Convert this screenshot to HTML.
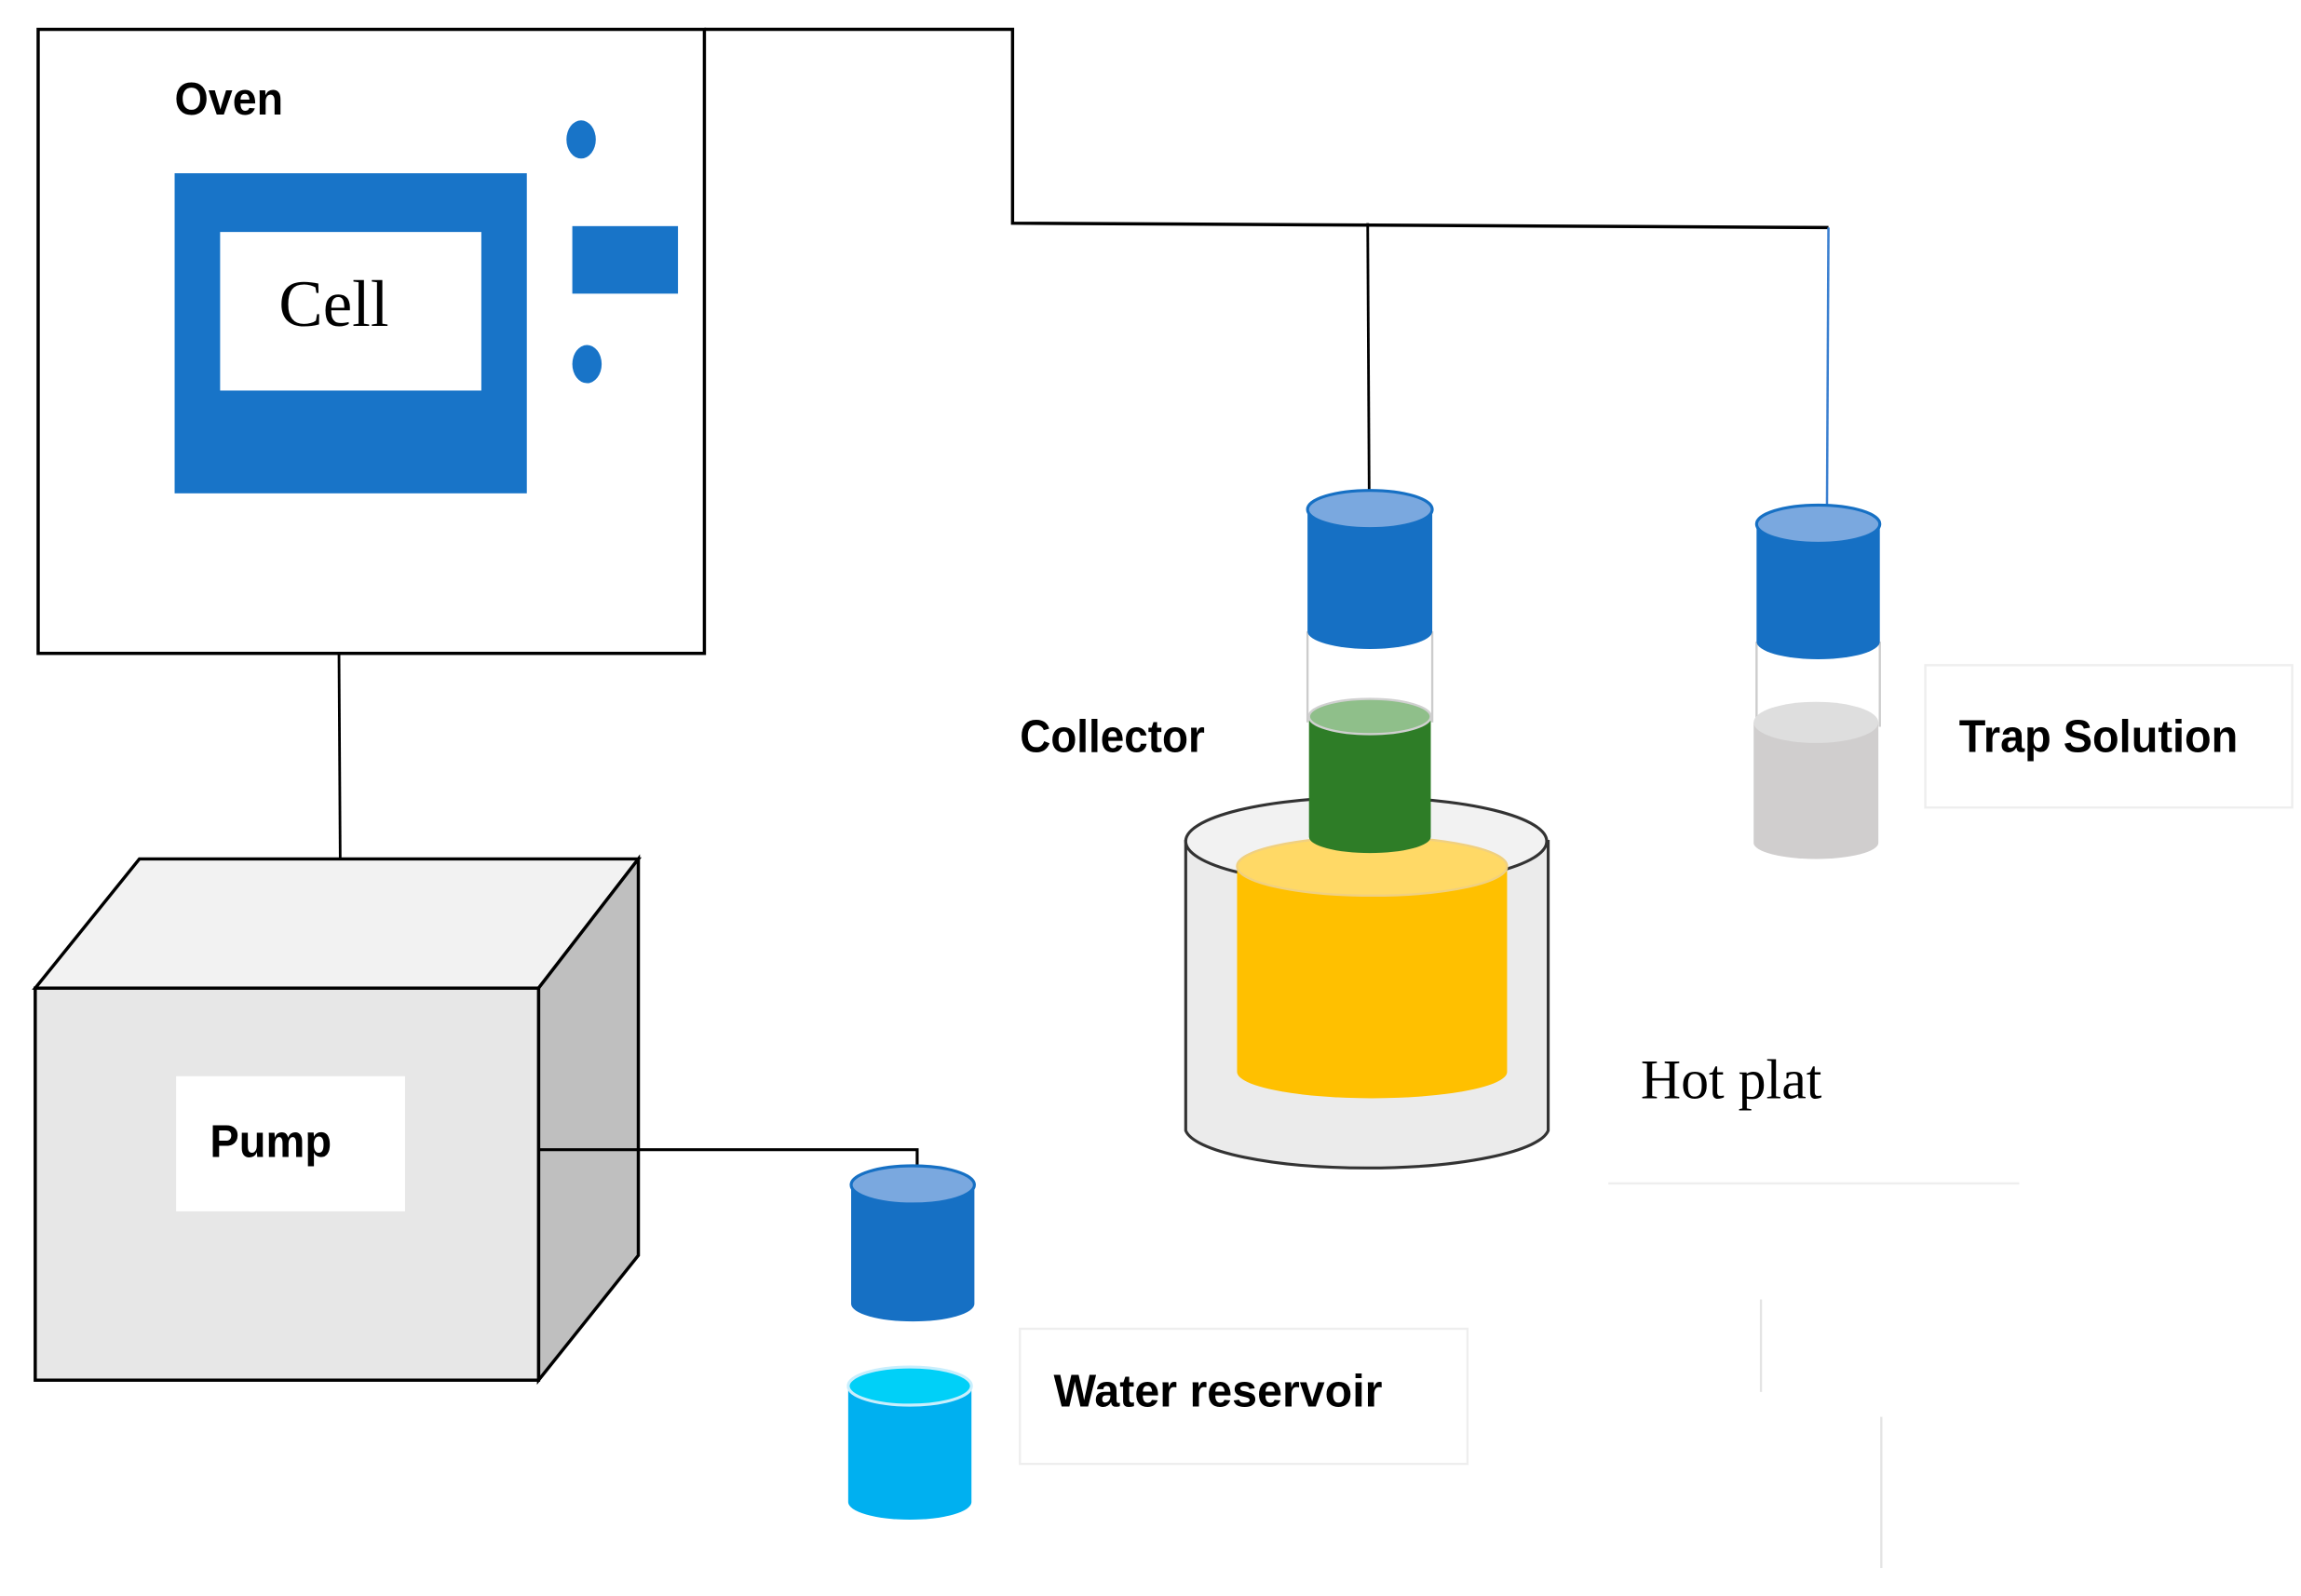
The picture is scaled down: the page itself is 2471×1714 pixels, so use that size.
<!DOCTYPE html>
<html><head><meta charset="utf-8"><style>html,body{margin:0;padding:0;background:#fff}svg{display:block}</style></head>
<body>
<svg width="2471" height="1714" viewBox="0 0 1568 1087" preserveAspectRatio="none" xmlns="http://www.w3.org/2000/svg">
<rect width="1568" height="1087" fill="#fff"/>
<rect x="26" y="20" width="454" height="425" fill="#fff" stroke="#000" stroke-width="2.2"/>
<text x="119" y="78" font-family="Liberation Sans, sans-serif" font-weight="bold" font-size="31" textLength="74" lengthAdjust="spacingAndGlyphs">Oven</text>
<rect x="119" y="118" width="240" height="218" fill="#1874C8"/>
<rect x="150" y="158" width="178" height="108" fill="#fff"/>
<text x="190" y="222" font-family="Liberation Serif, serif" font-size="45">Cell</text>
<ellipse cx="396" cy="95" rx="10" ry="13" fill="#1874C8"/>
<ellipse cx="400" cy="248" rx="10" ry="13" fill="#1874C8"/>
<rect x="390" y="154" width="72" height="46" fill="#1874C8"/>
<polyline points="480,20 690,20 690,152 1246,155" fill="none" stroke="#000" stroke-width="2.2"/>
<line x1="932" y1="152" x2="933" y2="334" stroke="#000" stroke-width="1.8"/>
<line x1="1246" y1="155" x2="1245" y2="344" stroke="#3a7fd0" stroke-width="1.6"/>
<line x1="231" y1="445" x2="232" y2="613" stroke="#000" stroke-width="1.8"/>
<polygon points="24,673 95,585 435,585 367,673" fill="#f2f2f2" stroke="#000" stroke-width="2.2"/>
<polygon points="367,673 435,585 435,855 367,940" fill="#bfbfbf" stroke="#000" stroke-width="2.2"/>
<rect x="24" y="673" width="343" height="267" fill="#e7e7e7" stroke="#000" stroke-width="2.2"/>
<rect x="120" y="733" width="156" height="92" fill="#fff"/>
<text x="143" y="788" font-family="Liberation Sans, sans-serif" font-weight="bold" font-size="31" textLength="83" lengthAdjust="spacingAndGlyphs">Pump</text>
<polyline points="367,783 625,783 625,822" fill="none" stroke="#000" stroke-width="2"/>
<path d="M580,807 L580,888 A42,12 0 0 0 664,888 L664,807 Z" fill="#1670C4"/>
<ellipse cx="622" cy="807" rx="42" ry="13" fill="#7aa8df" stroke="#1670C4" stroke-width="2"/>
<path d="M578,944 L578,1023 A42,12 0 0 0 662,1023 L662,944 Z" fill="#00B0F0"/>
<ellipse cx="620" cy="944" rx="42" ry="13" fill="#00d0f8" stroke="#c8eefc" stroke-width="2"/>
<rect x="695" y="905" width="305" height="92" fill="#fff" stroke="#eeeeee" stroke-width="1.5"/>
<text x="718" y="958" font-family="Liberation Sans, sans-serif" font-weight="bold" font-size="31" textLength="224" lengthAdjust="spacingAndGlyphs">Water reservoir</text>
<path d="M808,573 L808,770 A124,28 0 0 0 1055,770 L1055,573 Z" fill="#ebebeb" stroke="#333" stroke-width="2"/>
<ellipse cx="931" cy="573" rx="123" ry="30" fill="#f2f2f2" stroke="#333" stroke-width="2"/>
<path d="M843,590 L843,730 A92,18 0 0 0 1027,730 L1027,590 Z" fill="#FFC000"/>
<ellipse cx="935" cy="590" rx="92" ry="20" fill="#ffd966" stroke="#f0d080" stroke-width="1.5"/>
<line x1="891" y1="430" x2="891" y2="492" stroke="#ccc" stroke-width="1.5"/>
<line x1="976" y1="430" x2="976" y2="492" stroke="#ccc" stroke-width="1.5"/>
<path d="M892,488 L892,570 A41.5,11 0 0 0 975,570 L975,488 Z" fill="#2E7D27"/>
<ellipse cx="933.5" cy="488" rx="41.5" ry="12" fill="#8fbf8a" stroke="#d0d0d0" stroke-width="1.5"/>
<path d="M891,347 L891,430 A42.5,12 0 0 0 976,430 L976,347 Z" fill="#1670C4"/>
<ellipse cx="933.5" cy="347" rx="42.5" ry="13" fill="#7aa8df" stroke="#1670C4" stroke-width="2"/>
<text x="695" y="512" font-family="Liberation Sans, sans-serif" font-weight="bold" font-size="31" textLength="126" lengthAdjust="spacingAndGlyphs">Collector</text>
<line x1="1197" y1="437" x2="1197" y2="495" stroke="#ccc" stroke-width="1.5"/>
<line x1="1281" y1="437" x2="1281" y2="495" stroke="#ccc" stroke-width="1.5"/>
<path d="M1195,492 L1195,574 A42.5,11 0 0 0 1280,574 L1280,492 Z" fill="#d0cece"/>
<ellipse cx="1237.5" cy="492" rx="42.5" ry="14" fill="#dedede"/>
<path d="M1197,357 L1197,437 A42,12 0 0 0 1281,437 L1281,357 Z" fill="#1670C4"/>
<ellipse cx="1239" cy="357" rx="42" ry="13" fill="#7aa8df" stroke="#1670C4" stroke-width="2"/>
<rect x="1312" y="453" width="250" height="97" fill="#fff" stroke="#eeeeee" stroke-width="1.5"/>
<text x="1335" y="512" font-family="Liberation Sans, sans-serif" font-weight="bold" font-size="31" textLength="190" lengthAdjust="spacingAndGlyphs">Trap Solution</text>
<text x="1118" y="748" font-family="Liberation Serif, serif" font-size="38">Hot plat</text>
<line x1="1096" y1="806" x2="1376" y2="806" stroke="#eee" stroke-width="1.5"/>
<line x1="1200" y1="885" x2="1200" y2="948" stroke="#e4e4e4" stroke-width="1.5"/>
<line x1="1282" y1="965" x2="1282" y2="1068" stroke="#e4e4e4" stroke-width="1.5"/>
</svg>
</body></html>
